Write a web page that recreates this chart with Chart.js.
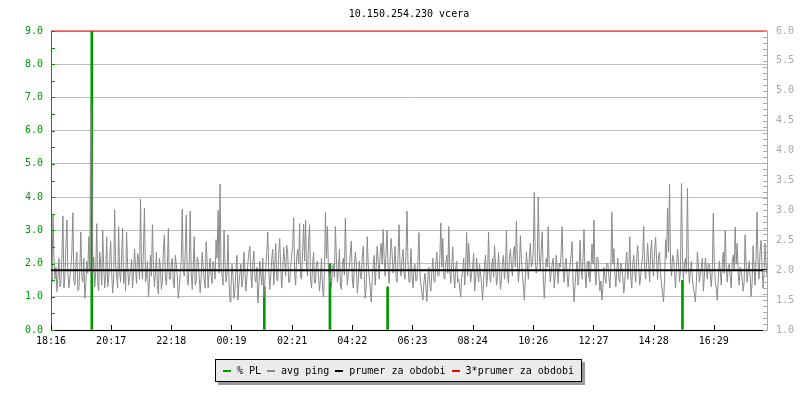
<!DOCTYPE html>
<html>
<head>
<meta charset="utf-8">
<script src="https://cdn.jsdelivr.net/npm/chart.js@4/dist/chart.umd.min.js"></script>
<style>
html,body{margin:0;padding:0;background:#fff;}
#wrap{position:relative;width:800px;height:400px;}
canvas{display:block;}
#legend{position:absolute;left:215px;top:359px;height:23px;box-sizing:border-box;background:#ebebeb;border:1px solid #000;box-shadow:3px 3px 0 #9a9a9a;font:10px "DejaVu Sans Mono",monospace;color:#000;display:flex;align-items:center;padding:0 7px;white-space:pre;}
#legend .it{display:flex;align-items:center;margin-right:6px;}
#legend .it:last-child{margin-right:0;}
#legend .sw{display:inline-block;width:8px;height:2px;margin-right:6px;}
</style>
</head>
<body>
<div id="wrap">
<canvas id="c" width="800" height="400"></canvas>
<div id="legend"></div>
</div>
<script>
// ---- data ----
const chartTitle = '10.150.254.230 vcera';
const startTime = '18:16';
const periodMinutes = 1440;
const sampleMinutes = 2;
const timeLabels = ['18:16','20:17','22:18','00:19','02:21','04:22','06:23','08:24','10:26','12:27','14:28','16:29'];
const seriesLabels = ['% PL', 'avg ping', 'prumer za obdobi', '3*prumer za obdobi'];
// packet loss (%) events
const plTimes = ['19:38','01:25','03:37','05:33','15:26'];
const plValues = [9.0, 1.3, 2.0, 1.3, 1.5];
// average ping (ms), one value every 2 minutes from 18:16
const avgPing = [
 2.1,1.8, 2.94,2.2, 1.85,2.05, 1.64,1.9, 2.2,1.72, 1.78,2.25, 2.91,1.7, 1.9,2.4, 2.84,1.95, 1.7,1.88, 2.05,2.3, 2.96,1.82, 1.75,2.1, 2.3,1.66, 1.68,2.02, 2.64,1.9, 1.8,2.2, 1.53,1.76, 2.15,1.95, 2.56,2.0,
 4.76,4.16, 1.95,2.22, 1.72,1.98, 2.78,1.8, 1.66,2.3, 2.1,1.75, 2.67,2.05, 1.7,1.92, 2.56,1.72, 1.85,2.15, 2.48,1.95, 1.62,1.85, 3.01,2.1, 1.9,1.7, 2.73,1.98, 1.8,2.25, 2.7,1.78, 2.0,1.66, 2.64,2.12, 1.75,1.9,
 2.0,2.18, 1.7,1.95, 2.35,2.05, 1.78,2.28, 2.2,1.85, 3.19,2.1, 1.85,2.35, 3.04,1.8, 1.9,2.15, 1.55,1.82, 2.25,1.9, 2.76,2.08, 1.72,1.96, 2.3,1.75, 1.6,2.2, 2.05,1.68, 1.8,2.32, 2.59,1.9, 1.75,2.05, 2.7,1.85,
 1.85,2.1, 2.2,1.78, 1.7,2.25, 2.1,1.9, 1.53,1.72, 1.95,2.18, 3.02,2.0, 1.9,2.3, 2.92,1.85, 1.75,2.12, 2.99,1.95, 1.68,2.05, 2.56,1.75, 1.8,2.22, 2.15,1.9, 1.62,1.88, 2.3,2.05, 1.85,1.7, 2.48,2.15, 1.7,1.98,
 2.2,1.9, 1.78,2.15, 2.05,1.85, 2.51,2.2, 3.0,1.95, 3.44,2.05, 1.9,1.75, 2.67,2.1, 1.8,1.95, 2.59,1.8, 1.47,1.72, 2.1,1.9, 1.53,1.68, 2.0,2.25, 1.5,1.78, 1.95,2.1, 1.72,1.85, 2.3,2.0, 1.65,1.88, 2.12,2.3,
 2.4,1.95, 1.7,2.1, 2.32,1.88, 1.8,2.05, 1.45,1.7, 2.15,1.92, 1.75,2.2, 1.55,1.8, 2.05,2.3, 2.64,2.0, 1.68,1.9, 2.2,2.35, 1.75,2.1, 2.45,1.85, 1.82,2.28, 2.53,2.05, 1.7,1.98, 2.38,2.15, 1.9,2.42, 2.3,1.8,
 1.8,2.05, 2.25,2.4, 2.88,1.95, 1.75,2.2, 2.35,2.1, 2.78,1.9, 1.85,2.3, 2.77,2.15, 2.84,2.05, 1.9,2.45, 2.76,1.85, 1.7,2.05, 2.3,1.78, 1.8,2.12, 2.15,1.9, 1.65,1.88, 2.2,1.72, 1.55,1.95, 2.97,2.2, 2.73,2.0,
 1.8,1.95, 1.72,2.05, 2.1,1.88, 2.73,2.2, 1.8,2.0, 2.35,1.75, 1.68,2.1, 2.2,1.92, 2.87,2.15, 1.75,1.98, 2.05,2.28, 2.49,1.85, 1.7,2.05, 2.3,2.12, 1.62,1.8, 2.15,1.95, 1.85,2.22, 2.4,1.9, 1.53,1.75, 2.56,2.1,
 1.9,1.7, 1.47,1.85, 2.1,2.25, 1.75,2.05, 2.4,2.15, 1.85,2.3, 2.45,2.1, 2.68,2.2, 1.9,2.35, 2.67,2.0, 1.78,2.15, 2.53,2.3, 1.95,2.1, 2.4,1.88, 1.8,2.25, 2.76,2.05, 1.9,2.18, 2.35,1.95, 1.85,2.3, 2.99,2.1,
 1.8,1.98, 2.36,1.9, 1.7,2.05, 2.1,1.82, 1.85,2.15, 2.63,1.95, 1.75,1.62, 1.5,1.8, 1.95,1.72, 1.48,1.9, 2.05,1.75, 1.65,2.0, 2.2,1.85, 1.8,2.1, 2.3,1.92, 1.9,2.2, 2.79,2.05, 2.53,1.88, 1.85,2.12, 2.25,1.95,
 2.73,2.0, 1.78,2.1, 2.39,1.9, 1.7,2.05, 2.15,1.8, 1.85,1.7, 1.55,1.88, 2.0,2.2, 1.75,2.05, 2.63,1.9, 2.45,2.12, 1.8,1.95, 2.05,2.28, 1.65,1.85, 2.2,1.98, 1.8,2.1, 1.95,1.75, 1.5,1.82, 2.1,2.25, 1.72,1.9,
 2.64,1.95, 1.8,2.05, 2.2,1.88, 2.41,2.1, 1.75,1.9, 2.3,2.02, 1.68,1.85, 2.15,2.25, 1.85,2.05, 2.67,1.92, 1.78,2.2, 2.35,2.1, 1.9,2.3, 2.4,2.05, 2.82,2.15, 1.8,2.0, 2.58,2.2, 1.95,1.75, 1.5,1.85, 2.3,2.1,
 1.85,2.2, 2.45,2.05, 2.1,2.3, 3.3,2.15, 1.95,2.1, 3.22,2.25, 2.0,2.35, 2.64,1.9, 1.53,1.85, 2.2,2.05, 2.73,2.1, 1.8,1.95, 2.1,2.2, 1.7,1.88, 2.25,2.05, 1.78,2.12, 2.05,2.3, 2.73,2.0, 1.8,2.1, 2.2,1.92,
 1.72,1.95, 2.1,2.25, 2.48,1.8, 1.47,1.75, 2.0,2.15, 1.75,1.92, 2.5,2.05, 1.85,2.2, 2.68,1.95, 1.7,2.1, 2.15,1.88, 1.8,2.05, 2.44,2.1, 2.84,1.98, 1.75,2.22, 2.2,1.9, 1.65,1.82, 1.5,1.72, 2.05,1.9, 1.78,2.12,
 2.1,1.9, 1.7,2.05, 2.97,2.1, 2.36,1.95, 1.72,2.0, 2.2,1.85, 1.8,2.12, 2.05,1.88, 1.62,1.8, 2.15,2.3, 1.85,2.05, 2.56,1.92, 1.7,2.1, 2.25,1.98, 1.8,2.2, 2.41,2.05, 1.75,1.9, 2.1,2.25, 2.73,2.0, 1.85,2.15,
 2.45,2.1, 1.8,2.3, 2.5,2.05, 1.9,2.35, 2.55,2.15, 1.85,2.25, 2.3,1.95, 1.75,1.62, 1.47,1.85, 2.51,2.2, 3.04,2.3, 3.44,2.1, 1.9,2.25, 2.2,1.95, 1.7,2.05, 2.35,2.15, 1.8,2.0, 3.45,2.2, 1.85,2.1, 2.2,1.95,
 3.37,2.05, 1.78,2.0, 2.15,1.85, 1.7,1.6, 1.47,1.8, 2.3,2.1, 1.8,1.95, 2.05,2.2, 1.65,1.88, 2.2,2.05, 1.85,2.12, 2.1,1.92, 1.72,2.0, 2.95,2.15, 1.8,1.7, 1.5,1.85, 2.15,2.0, 1.75,2.1, 2.3,1.95, 2.67,2.05,
 1.8,2.05, 2.1,1.9, 1.7,2.15, 2.25,2.0, 2.72,2.1, 2.45,1.95, 1.75,2.05, 2.0,1.85, 1.65,1.8, 2.59,2.1, 1.8,2.0, 2.15,1.9, 1.56,1.78, 2.41,2.05, 1.75,2.2, 2.97,2.1, 1.85,2.3, 2.5,2.05, 1.7,1.95, 2.45,2.1,
 1.9
];
const prumer = 2.0;           // average for the period (ms)
const prumerFactor = 3;       // 3*prumer
const leftAxisRange = [0, 9];
const rightAxisRange = [1, 6];

// ---- helpers ----
function toMin(t){
  const p = t.split(':').map(Number);
  const s = startTime.split(':').map(Number);
  return ((p[0]*60 + p[1]) - (s[0]*60 + s[1]) + periodMinutes) % periodMinutes;
}
const tickValues = timeLabels.map(toMin);
const FONT = '"DejaVu Sans Mono", monospace';
const GREEN = '#009900', GREY = '#8a8a8a', AXGREY = '#a8a8a8';

const innerTicks = {
  id: 'innerTicks',
  afterDraw(chart){
    const {ctx, chartArea: a, scales} = chart;
    ctx.save();
    ctx.lineWidth = 1;
    ctx.strokeStyle = GREEN;
    ctx.beginPath();
    for (let k = leftAxisRange[0]*2; k <= leftAxisRange[1]*2; k++){
      const y = Math.round(scales.y.getPixelForValue(k/2)) + 0.5;
      ctx.moveTo(a.left, y); ctx.lineTo(a.left + 4, y);
    }
    ctx.stroke();
    ctx.strokeStyle = AXGREY;
    ctx.beginPath();
    for (let k = rightAxisRange[0]*10; k <= rightAxisRange[1]*10; k++){
      const y = Math.round(scales.y1.getPixelForValue(k/10)) + 0.5;
      ctx.moveTo(a.right - 4, y); ctx.lineTo(a.right, y);
    }
    ctx.stroke();
    ctx.strokeStyle = '#000';
    ctx.beginPath();
    tickValues.forEach(v => {
      const x = Math.round(scales.x.getPixelForValue(v)) + 0.5;
      ctx.moveTo(x, a.bottom); ctx.lineTo(x, a.bottom - 5);
    });
    ctx.stroke();
    ctx.restore();
  }
};

const chart = new Chart(document.getElementById('c'), {
  type: 'line',
  data: {
    datasets: [
      {
        type: 'bar', label: seriesLabels[0],
        data: plTimes.map((t, i) => ({x: toMin(t), y: plValues[i]})),
        backgroundColor: GREEN, borderWidth: 0, barThickness: 2,
        yAxisID: 'y', order: 4
      },
      {
        label: seriesLabels[1],
        data: avgPing.map((v, i) => ({x: i*sampleMinutes, y: v})),
        borderColor: GREY, backgroundColor: GREY, borderWidth: 1, pointRadius: 0,
        tension: 0, yAxisID: 'y1', order: 3
      },
      {
        label: seriesLabels[2],
        data: [{x: 0, y: prumer}, {x: periodMinutes, y: prumer}],
        borderColor: '#000', backgroundColor: '#000', borderWidth: 2, pointRadius: 0,
        yAxisID: 'y1', order: 2
      },
      {
        label: seriesLabels[3],
        data: [{x: 0, y: prumer*prumerFactor}, {x: periodMinutes, y: prumer*prumerFactor}],
        borderColor: '#ff0000', backgroundColor: '#ff0000', borderWidth: 1, pointRadius: 0,
        yAxisID: 'y1', order: 1, clip: false
      }
    ]
  },
  options: {
    responsive: false, animation: false, devicePixelRatio: 1,
    layout: {padding: 0},
    plugins: {
      legend: {display: false},
      tooltip: {enabled: false},
      title: {
        display: true, text: chartTitle, fullSize: false, color: '#000',
        font: {family: FONT, size: 10, weight: 'normal', lineHeight: 1.2},
        padding: {top: 8, bottom: 11}
      }
    },
    scales: {
      x: {
        type: 'linear', min: 0, max: periodMinutes, offset: false,
        afterFit: s => { s.height = 70; },
        afterBuildTicks: s => { s.ticks = tickValues.map(v => ({value: v})); },
        ticks: {
          autoSkip: false, maxRotation: 0, color: '#000', padding: 5,
          font: {family: FONT, size: 10},
          callback: v => timeLabels[tickValues.indexOf(v)]
        },
        grid: {display: false, drawTicks: false},
        border: {display: true, color: '#000', width: 1}
      },
      y: {
        position: 'left', min: leftAxisRange[0], max: leftAxisRange[1],
        afterFit: s => { s.width = 51; },
        ticks: {stepSize: 1, color: GREEN, padding: 8, font: {family: FONT, size: 10},
                callback: v => Number(v).toFixed(1)},
        grid: {display: true, drawTicks: false, color: '#bdbdbd', lineWidth: 1},
        border: {display: true, color: GREEN, width: 1}
      },
      y1: {
        position: 'right', min: rightAxisRange[0], max: rightAxisRange[1],
        afterFit: s => { s.width = 33; },
        ticks: {stepSize: 0.5, color: AXGREY, padding: 9, font: {family: FONT, size: 10},
                callback: v => Number(v).toFixed(1)},
        grid: {display: false, drawTicks: false},
        border: {display: true, color: AXGREY, width: 1}
      }
    }
  },
  plugins: [innerTicks]
});

const lg = document.getElementById('legend');
chart.data.datasets.forEach(ds => {
  const it = document.createElement('span'); it.className = 'it';
  const sw = document.createElement('span'); sw.className = 'sw';
  sw.style.background = ds.type === 'bar' ? ds.backgroundColor : ds.borderColor;
  const tx = document.createElement('span'); tx.textContent = ds.label;
  it.appendChild(sw); it.appendChild(tx); lg.appendChild(it);
});
</script>
</body>
</html>
